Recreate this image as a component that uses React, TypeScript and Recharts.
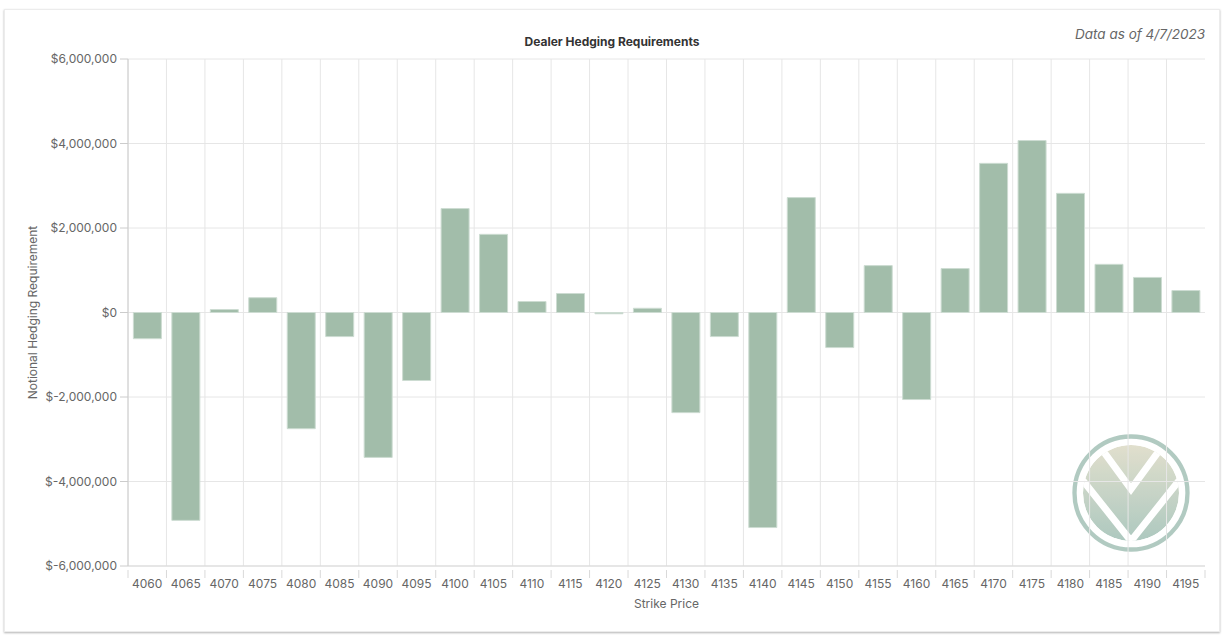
import { BarChart, Bar, XAxis, YAxis, CartesianGrid } from "recharts";

const strikes = [
  4060, 4065, 4070, 4075, 4080, 4085, 4090, 4095, 4100, 4105, 4110, 4115, 4120, 4125,
  4130, 4135, 4140, 4145, 4150, 4155, 4160, 4165, 4170, 4175, 4180, 4185, 4190, 4195,
];

const hedging = [
  -620000, -4920000, 70000, 350000, -2750000, -570000, -3430000, -1610000, 2460000,
  1850000, 260000, 450000, -30000, 100000, -2370000, -570000, -5090000, 2720000,
  -830000, 1110000, -2060000, 1040000, 3530000, 4070000, 2820000, 1140000, 830000,
  520000,
];

const yTicks = [-6000000, -4000000, -2000000, 0, 2000000, 4000000, 6000000];

const data = strikes.map((s, i) => ({ strike: String(s), value: hedging[i] }));

const FONT = "Inter, 'Open Sans', sans-serif";
const W = 1214;
const H = 621;
const MARGIN = { top: 49, right: 14, bottom: 35, left: 8 };
const Y_WIDTH = 115;
const PLOT_W = W - MARGIN.left - MARGIN.right - Y_WIDTH;

const money = (v: number) =>
  v < 0 ? `$-${Math.abs(v).toLocaleString("en-US")}` : `$${v.toLocaleString("en-US")}`;

function StrikeTick(props: any) {
  const { x, y, payload, index } = props;
  const half = payload?.offset ?? PLOT_W / strikes.length / 2;
  return (
    <g>
      <line x1={x - half} x2={x - half} y1={y - 4} y2={y + 4} stroke="#d9d9d9" />
      {index === strikes.length - 1 && (
        <line x1={x + half} x2={x + half} y1={y - 4} y2={y + 4} stroke="#d9d9d9" />
      )}
      <text x={x} y={y + 14} textAnchor="middle" fill="#666" fontSize={12} fontFamily={FONT}>
        {payload.value}
      </text>
    </g>
  );
}

function Logo() {
  return (
    <svg
      width={130}
      height={130}
      viewBox="-65 -65 130 130"
      style={{ position: "absolute", left: 1126 - 65, top: 483 - 65, opacity: 0.9 }}
    >
      <defs>
        <linearGradient id="logoFill" x1="0" y1="0" x2="0" y2="1">
          <stop offset="0%" stopColor="#dedcc8" />
          <stop offset="100%" stopColor="#a5c3b9" />
        </linearGradient>
        <clipPath id="disc">
          <circle r={48} />
        </clipPath>
      </defs>
      <circle r={56.5} fill="none" stroke="#a9c5bb" strokeWidth={4.3} />
      <g clipPath="url(#disc)">
        <circle r={48} fill="url(#logoFill)" />
        <polyline points="-44,-64 0,-4 44,-64" fill="none" stroke="#fff" strokeWidth={7} />
        <polyline points="-62,-30 0,48 62,-30" fill="none" stroke="#fff" strokeWidth={7} />
      </g>
    </svg>
  );
}

export default function App() {
  return (
    <div
      style={{
        position: "absolute",
        left: 4,
        top: 9,
        width: W + 2,
        height: H + 2,
        background: "#fff",
        border: "1px solid #ececec",
        boxShadow: "0 1px 2px rgba(0,0,0,0.3)",
        boxSizing: "border-box",
        fontFamily: FONT,
      }}
    >
      <Logo />
      <div
        style={{
          position: "absolute",
          left: 0,
          width: W,
          top: 24,
          textAlign: "center",
          fontSize: 12,
          fontWeight: 700,
          color: "#333",
        }}
      >
        Dealer Hedging Requirements
      </div>
      <div
        style={{
          position: "absolute",
          right: 14,
          top: 16,
          fontSize: 13.5,
          fontStyle: "italic",
          color: "#666",
        }}
      >
        Data as of 4/7/2023
      </div>
      <div style={{ position: "absolute", left: 0, top: 0 }}>
        <BarChart width={W} height={H} data={data} margin={MARGIN} barCategoryGap="14%">
          <CartesianGrid
            stroke="#e6e6e6"
            verticalCoordinatesGenerator={({ offset }: any) => {
              const left = offset?.left ?? MARGIN.left + Y_WIDTH;
              const width = offset?.width ?? PLOT_W;
              return strikes.map((_, i) => left + (i * width) / strikes.length);
            }}
          />
          <XAxis
            dataKey="strike"
            height={30}
            axisLine={{ stroke: "#d9d9d9" }}
            tickLine={false}
            tick={<StrikeTick />}
            interval={0}
            label={{
              value: "Strike Price",
              position: "bottom",
              offset: 3,
              fill: "#666",
              fontSize: 12,
              fontFamily: FONT,
            }}
          />
          <YAxis
            width={Y_WIDTH}
            domain={[-6000000, 6000000]}
            ticks={yTicks}
            tickFormatter={money}
            axisLine={{ stroke: "#cccccc" }}
            tickLine={{ stroke: "#cccccc" }}
            tickSize={8}
            tickMargin={3}
            tick={{ fill: "#666", fontSize: 12, fontFamily: FONT }}
            label={{
              value: "Notional Hedging Requirement",
              angle: -90,
              position: "insideLeft",
              offset: 20,
              fill: "#666",
              fontSize: 12,
              fontFamily: FONT,
              style: { textAnchor: "middle" },
            }}
          />
          <Bar
            dataKey="value"
            fill="#a2bdaa"
            stroke="#cddcd2"
            strokeWidth={1}
            isAnimationActive={false}
          />
        </BarChart>
      </div>
    </div>
  );
}
